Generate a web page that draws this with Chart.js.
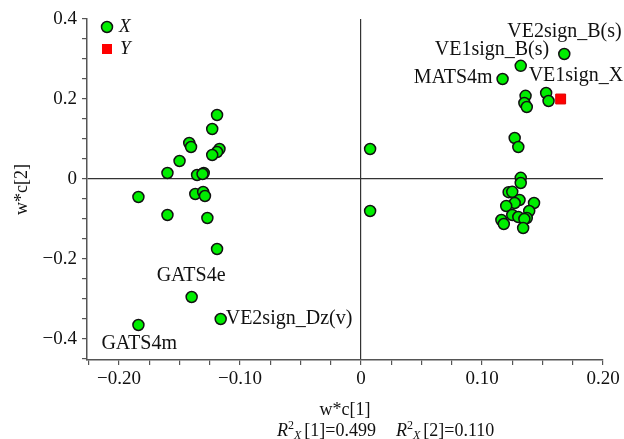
<!DOCTYPE html>
<html>
<head>
<meta charset="utf-8">
<title>PLS loading plot</title>
<script src="https://cdn.jsdelivr.net/npm/chart.js"></script>
<style>
  body { margin: 0; background: #fff; }
  #wrap { width: 624px; height: 439px; }
</style>
</head>
<body>
<div id="wrap"><canvas id="plot" width="624" height="439"></canvas></div>
<script>
// loadings w*c[1] / w*c[2] for the X variables (first six are the labelled ones)
var xNames = ["VE2sign_B(s)", "VE1sign_B(s)", "MATS4m", "GATS4e", "VE2sign_Dz(v)", "GATS4m"];
var xW1 = [0.168, 0.132, 0.117, -0.140, -0.116, -0.184,
  0.153, 0.155, 0.136, 0.135, 0.137, 0.127, 0.130, 0.132, 0.132, 0.122, 0.125, 0.131,
  0.127, 0.120, 0.143, 0.139, 0.125, 0.130, 0.137, 0.135, 0.116, 0.118, 0.134,
  0.0075, 0.0075,
  -0.119, -0.123, -0.142, -0.1405, -0.117, -0.119, -0.123, -0.150, -0.160, -0.1355,
  -0.130, -0.131, -0.184, -0.137, -0.1305, -0.129, -0.160, -0.127, -0.119];
var xW2 = [0.3125, 0.283, 0.25, -0.295, -0.35, -0.365,
  0.215, 0.195, 0.208, 0.19, 0.18, 0.1025, 0.08, 0.003, -0.01, -0.033, -0.032, -0.0525,
  -0.06, -0.0675, -0.06, -0.08, -0.09, -0.095, -0.0975, -0.10, -0.1025, -0.1125, -0.1225,
  0.075, -0.08,
  0.16, 0.125, 0.09, 0.08, 0.075, 0.0675, 0.06, 0.045, 0.015, 0.01,
  0.015, 0.0125, -0.045, -0.0375, -0.0325, -0.0425, -0.09, -0.0975, -0.175];

// the Y response
var yNames = ["VE1sign_X"];
var yW1 = [0.165];
var yW2 = [0.20];

// axis ticks
var xTickValues = [-0.20, -0.10, 0, 0.10, 0.20];
var xTickLabels = ["\u22120.20", "\u22120.10", "0", "0.10", "0.20"];
var yTickValues = [-0.4, -0.2, 0, 0.2, 0.4];
var yTickLabels = ["\u22120.4", "\u22120.2", "0", "0.2", "0.4"];

var FONT = "'Liberation Serif', 'Times New Roman', serif";

// pixel offsets of the point labels (style only)
var labelOffsets = {
  "VE2sign_B(s)": { dx: -57, dy: -22, align: "left" },
  "VE1sign_B(s)": { dx: -86, dy: -16, align: "left" },
  "MATS4m": { dx: -10, dy: -1, align: "right" },
  "GATS4e": { dx: -35, dy: -21, align: "left" },
  "VE2sign_Dz(v)": { dx: 5, dy: 0, align: "left" },
  "GATS4m": { dx: -37, dy: 19, align: "left" },
  "VE1sign_X": { dx: -32, dy: -23, align: "left" }
};

function toPoints(a, b) {
  return a.map(function (v, i) { return { x: v, y: b[i] }; });
}

function minorTicks(from, to, step) {
  var out = [];
  for (var v = from; v <= to + 1e-9; v += step) out.push({ value: Math.round(v * 1000) / 1000 });
  return out;
}

function labelFor(values, labels, v) {
  for (var i = 0; i < values.length; i++) {
    if (Math.abs(values[i] - v) < 1e-6) return labels[i];
  }
  return "";
}

// names next to points, legend and the R2 line under the x title
var annotate = {
  id: "annotate",
  afterDatasetsDraw: function (chart) {
    var ctx = chart.ctx;
    ctx.save();
    ctx.font = "20px " + FONT;
    ctx.fillStyle = "#111";
    ctx.textBaseline = "middle";
    [[0, xNames], [1, yNames]].forEach(function (pair) {
      var meta = chart.getDatasetMeta(pair[0]);
      pair[1].forEach(function (name, i) {
        var el = meta.data[i];
        var o = labelOffsets[name];
        ctx.textAlign = o.align;
        ctx.fillText(name, el.x + o.dx, el.y + o.dy);
      });
    });

    // legend
    var a = chart.chartArea;
    var lx = a.left + 20, ly = a.top + 8;
    ctx.beginPath();
    ctx.arc(lx, ly, 5.5, 0, Math.PI * 2);
    ctx.fillStyle = "#00ee00";
    ctx.fill();
    ctx.lineWidth = 1.5;
    ctx.strokeStyle = "#111";
    ctx.stroke();
    ctx.fillStyle = "#ff0000";
    ctx.fillRect(lx - 5, ly + 22 - 5, 10, 10);
    ctx.fillStyle = "#111";
    ctx.textAlign = "left";
    ctx.font = "italic 19px " + FONT;
    ctx.fillText(chart.data.datasets[0].label, lx + 12, ly);
    ctx.fillText(chart.data.datasets[1].label, lx + 13, ly + 22);

    // R2X line
    var x = 277, base = 436;
    ctx.textBaseline = "alphabetic";
    function piece(t, f, dy) {
      ctx.font = f;
      ctx.fillText(t, x, base + dy);
      x += ctx.measureText(t).width;
    }
    [["[1]", "0.499"], ["[2]", "0.110"]].forEach(function (p, k) {
      if (k) x += 20;
      piece("R", "italic 18px " + FONT, 0);
      piece("2", "12px " + FONT, -7);
      piece("X", "italic 12px " + FONT, 3);
      x += 3;
      piece(p[0] + "=" + p[1], "18px " + FONT, 0);
    });
    ctx.restore();
  }
};

var ctx = document.getElementById("plot").getContext("2d");
var chart = new Chart(ctx, {
  type: "scatter",
  data: {
    datasets: [
      {
        label: "X",
        data: toPoints(xW1, xW2),
        pointStyle: "circle",
        pointRadius: 5.5,
        pointHoverRadius: 5.5,
        backgroundColor: "#00ee00",
        borderColor: "#111",
        borderWidth: 1.5
      },
      {
        label: "Y",
        data: toPoints(yW1, yW2),
        pointStyle: "rect",
        pointRadius: 7,
        pointHoverRadius: 7,
        backgroundColor: "#ff0000",
        borderColor: "#dd0000",
        borderWidth: 1
      }
    ]
  },
  options: {
    responsive: false,
    animation: false,
    layout: { padding: { top: 19, right: 21, left: 0, bottom: 0 } },
    plugins: {
      legend: { display: false },
      tooltip: { enabled: false }
    },
    scales: {
      x: {
        type: "linear",
        min: -0.2265,
        max: 0.20,
        afterFit: function (s) { s.height = 79; },
        afterBuildTicks: function (s) { s.ticks = minorTicks(-0.225, 0.20, 0.025); },
        border: { display: true, color: "#555", width: 1.5 },
        grid: {
          drawOnChartArea: true,
          color: function (c) { return c.tick && c.tick.value === 0 ? "#333" : "rgba(0,0,0,0)"; },
          lineWidth: 1.2,
          tickColor: "#555",
          tickLength: 5
        },
        ticks: {
          autoSkip: false,
          maxRotation: 0,
          padding: 3,
          color: "#111",
          font: { family: FONT, size: 19 },
          callback: function (v) { return labelFor(xTickValues, xTickLabels, v); }
        },
        title: {
          display: true,
          text: "w*c[1]",
          color: "#111",
          font: { family: FONT, size: 18 },
          padding: { top: 0, bottom: 18 }
        }
      },
      y: {
        type: "linear",
        min: -0.4525,
        max: 0.40,
        afterFit: function (s) { s.width = 87; },
        afterBuildTicks: function (s) { s.ticks = minorTicks(-0.45, 0.40, 0.05); },
        border: { display: true, color: "#555", width: 1.5 },
        grid: {
          drawOnChartArea: true,
          color: function (c) { return c.tick && c.tick.value === 0 ? "#333" : "rgba(0,0,0,0)"; },
          lineWidth: 1.2,
          tickColor: "#555",
          tickLength: 5
        },
        ticks: {
          autoSkip: false,
          padding: 5,
          color: "#111",
          font: { family: FONT, size: 19 },
          callback: function (v) { return labelFor(yTickValues, yTickLabels, v); }
        },
        title: {
          display: true,
          text: "w*c[2]",
          color: "#111",
          font: { family: FONT, size: 18 },
          padding: { top: 11, bottom: 0 }
        }
      }
    }
  },
  plugins: [annotate]
});
</script>
</body>
</html>
